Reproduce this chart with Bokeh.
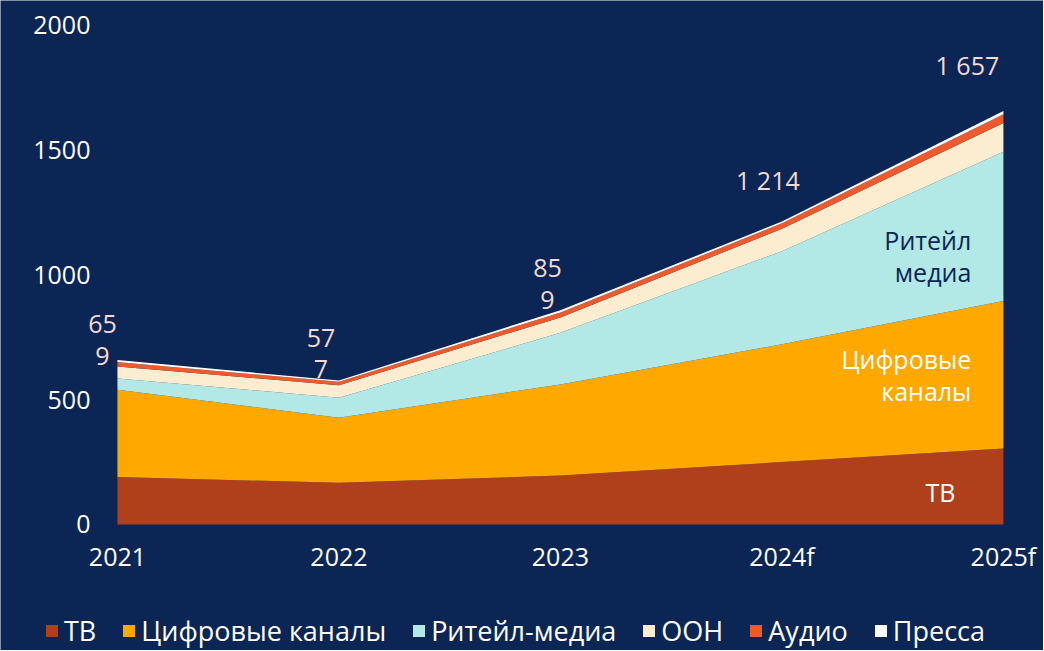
from bokeh.plotting import figure
from bokeh.models import ColumnDataSource, Range1d, Legend, LegendItem, FixedTicker
from bokeh.core.properties import value
from bokeh.embed import file_html
from bokeh.resources import INLINE

years = ["2021", "2022", "2023", "2024f", "2025f"]
tv = [190, 167, 196, 250, 305]
digital = [350, 261, 365, 472, 591]
retail = [45, 80, 207, 373, 598]
ooh = [48, 50, 62, 90, 115]
audio = [18, 14, 20, 22, 35]
press = [8, 5, 9, 7, 13]
total_labels = ["65\n9", "57\n7", "85\n9", "1 214", "1 657"]
series_names = ["ТВ", "Цифровые каналы", "Ритейл-медиа", "OOH", "Аудио", "Пресса"]
y_ticks = [0, 500, 1000, 1500, 2000]

BG = "#0b2654"
colors = ["#b0401c", "#ffa800", "#b2e8e5", "#fdedd0", "#ee5a2c", "#ffffff"]
FONT = value("Open Sans")
stackers = ["tv", "digital", "retail", "ooh", "audio", "press"]

x = list(range(len(years)))
totals = [a + b + c + d + e + f for a, b, c, d, e, f in zip(tv, digital, retail, ooh, audio, press)]

src = ColumnDataSource(dict(x=x, tv=tv, digital=digital, retail=retail, ooh=ooh,
                            audio=audio, press=press, total=totals, label=total_labels,
                            xo=[-15, -18, -13, -14, -36], yo=[-21, -28, -27, -42, -46]))

# the frame fills the whole canvas; axes are pinned at x=0 / y=0 so the
# legend strip below the x axis and the labels left of the areas stay visible
p = figure(width=1043, height=650, x_range=Range1d(-0.528, 4.181), y_range=Range1d(-505, 2100),
           output_backend="svg", toolbar_location=None,
           background_fill_color=BG, border_fill_color=BG, min_border=0)
p.outline_line_color = None
p.xgrid.visible = False
p.ygrid.visible = False

rs = p.varea_stack(stackers, x="x", color=colors, source=src)

p.text(x="x", y="total", text="label", x_offset="xo", y_offset="yo", source=src,
       text_align="center", text_baseline="middle", text_font=FONT,
       text_font_size="25px", text_color="#f3dad3", text_line_height=0.94)

# in-area labels
p.text(x=[3.855], y=[1076], text=["Ритейл\nмедиа"], text_align="right", text_baseline="middle",
       text_font=FONT, text_font_size="25px", text_color="#0b2654", text_line_height=0.94)
p.text(x=[3.855], y=[599], text=["Цифровые\nканалы"], text_align="right", text_baseline="middle",
       text_font=FONT, text_font_size="25px", text_color="#ffffff", text_line_height=0.94)
p.text(x=[3.716], y=[132], text=["ТВ"], text_align="center", text_baseline="middle",
       text_font=FONT, text_font_size="25px", text_color="#ffffff")

for ax in (p.xaxis[0], p.yaxis[0]):
    ax.axis_line_color = None
    ax.major_tick_line_color = None
    ax.minor_tick_line_color = None
    ax.major_label_text_font = "Open Sans"
    ax.major_label_text_font_size = "25px"
    ax.major_label_text_color = "#ffffff"
    ax.fixed_location = 0

p.xaxis.ticker = FixedTicker(ticks=x)
p.xaxis.major_label_overrides = {i: y for i, y in enumerate(years)}
p.xaxis.major_label_standoff = 9
p.yaxis.ticker = FixedTicker(ticks=y_ticks)
p.yaxis.major_label_standoff = 21

legend = Legend(items=[LegendItem(label=n, renderers=[r]) for n, r in zip(series_names, rs)],
                orientation="horizontal", location=(44, 1),
                background_fill_alpha=0, border_line_color=None,
                label_text_color="#ffffff", label_text_font="Open Sans",
                label_text_font_size="27px", glyph_width=15, glyph_height=15,
                label_standoff=5, spacing=25, padding=0, margin=0)
p.add_layout(legend, "center")

open("out.html", "w").write(file_html(p, INLINE))
